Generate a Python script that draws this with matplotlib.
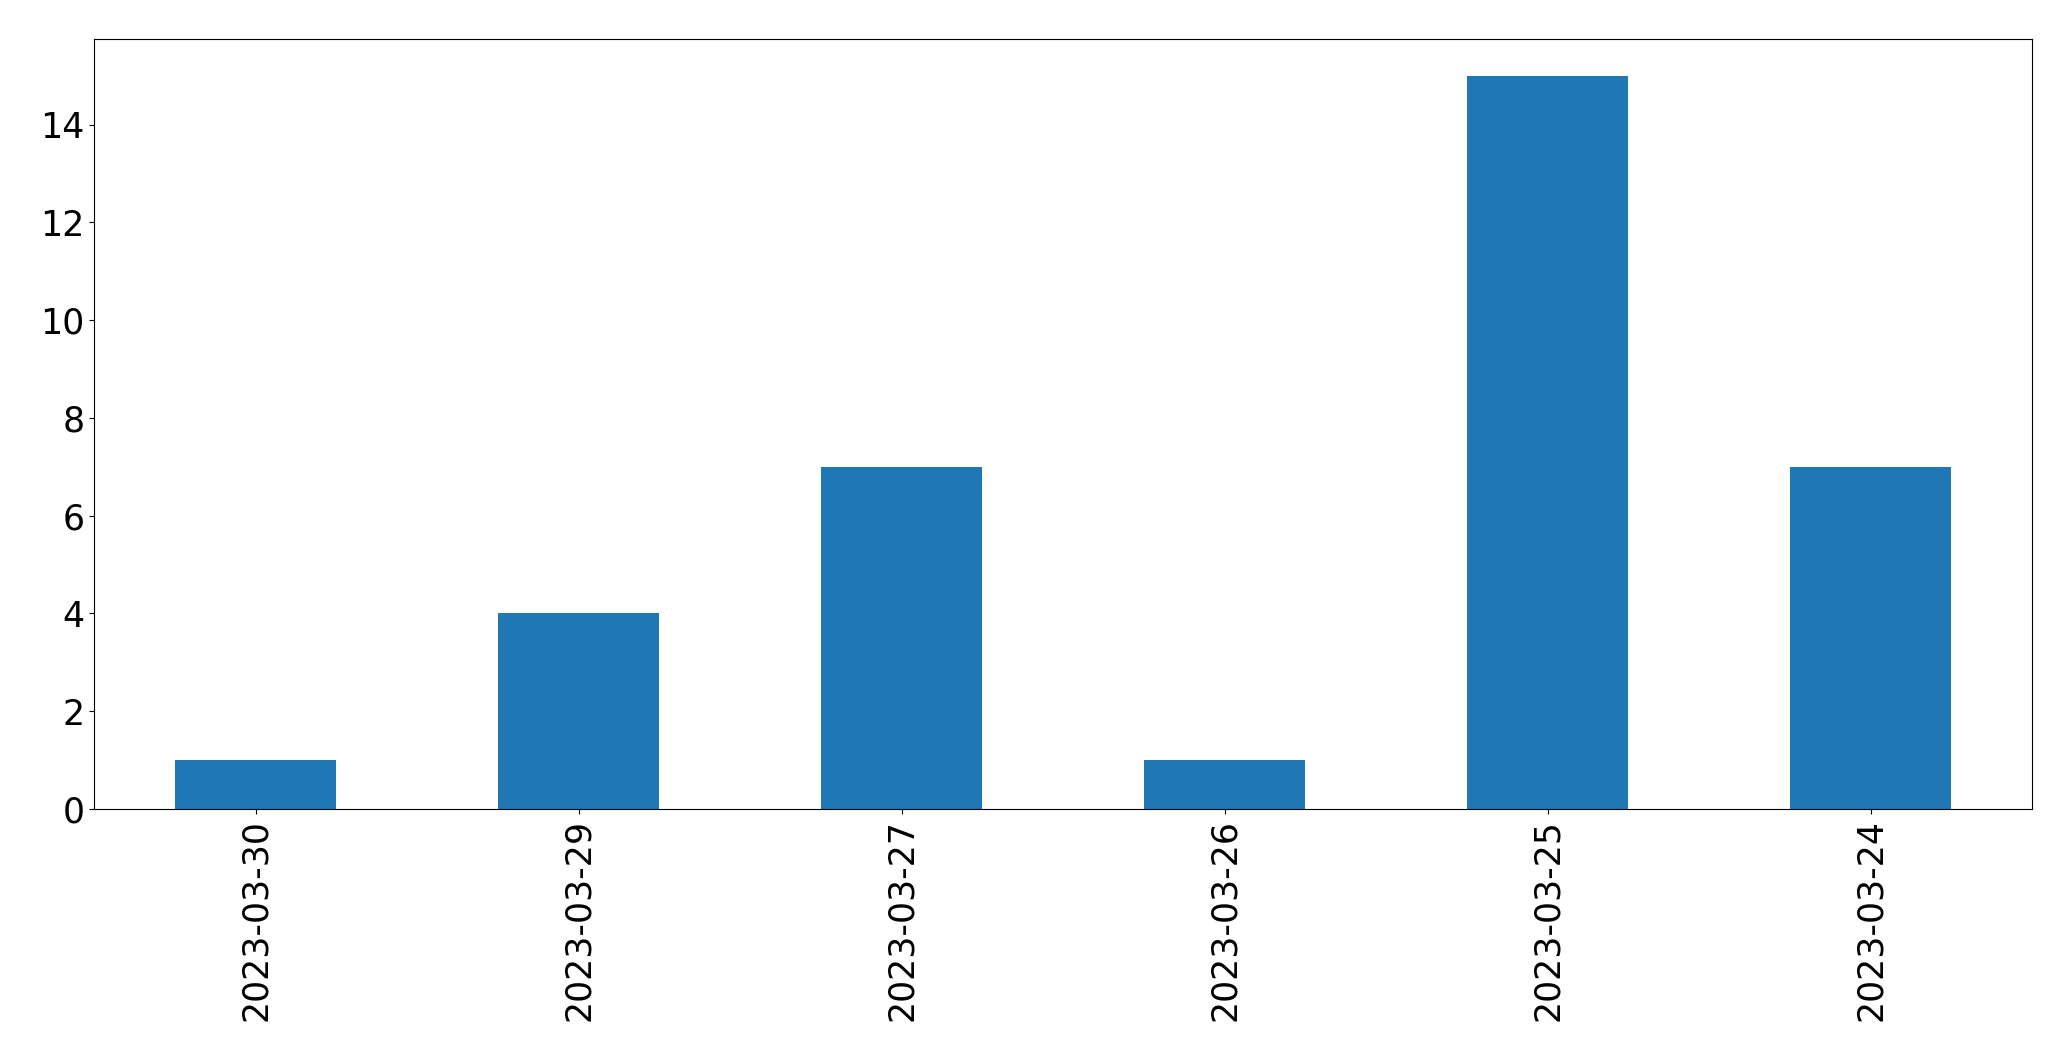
import matplotlib
matplotlib.use('Agg')
import matplotlib.pyplot as plt
import numpy as np

# dates in the order they appear on the x axis
dates = ['2023-03-30', '2023-03-29', '2023-03-27', '2023-03-26', '2023-03-25', '2023-03-24']
counts = [1, 4, 7, 1, 15, 7]

fig = plt.figure(figsize=(20.71, 10.61), dpi=100)
ax = fig.add_axes([0.0454, 0.2375, 0.9358, 0.7257])

x = np.arange(len(dates))
ax.bar(x, counts, width=0.5, color='#1f77b4')
ax.set_xlim(-0.5, len(dates) - 0.5)
ax.set_xticks(x)
ax.set_xticklabels(dates, rotation=90)
ax.tick_params(axis='both', labelsize=25)

fig.savefig('out.png', dpi=100)
